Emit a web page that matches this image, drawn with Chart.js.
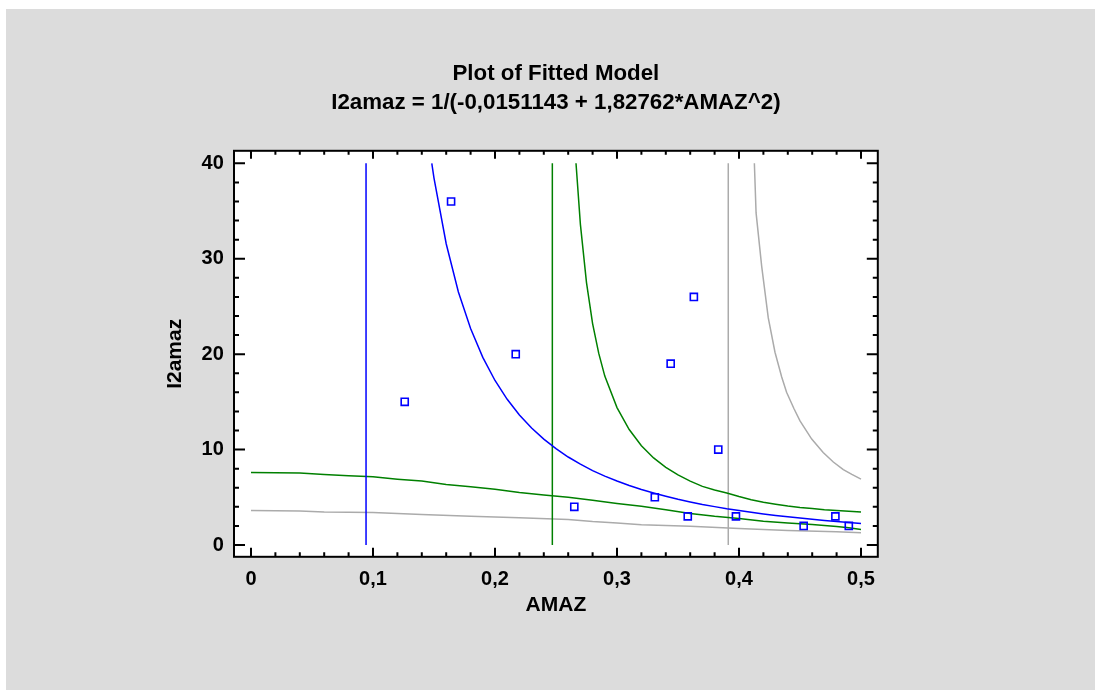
<!DOCTYPE html>
<html>
<head>
<meta charset="utf-8">
<script src="https://cdn.jsdelivr.net/npm/chart.js@4.4.1/dist/chart.umd.min.js"></script>
<style>
  html, body { margin: 0; padding: 0; background: #ffffff; }
  #wrap { position: absolute; left: 6px; top: 9px; width: 1089px; height: 681px; }
  canvas { display: block; }
</style>
</head>
<body>
<div id="wrap"><canvas id="c" width="1089" height="681"></canvas></div>
<script>
// ---- Observed data ----
const obsX = [0.126, 0.164, 0.217, 0.265, 0.331, 0.344, 0.358, 0.363, 0.383, 0.3975, 0.453, 0.479, 0.490];
const obsY = [15, 36, 20, 4, 5, 19, 3, 26, 10, 3, 2, 3, 2];

// ---- Fitted model (blue) ----
const fitX = [0.1482, 0.15, 0.16, 0.17, 0.18, 0.19, 0.20, 0.21, 0.22, 0.23, 0.24, 0.25, 0.26, 0.27, 0.28, 0.29, 0.30, 0.31, 0.32, 0.33, 0.34, 0.35, 0.36, 0.37, 0.38, 0.39, 0.40, 0.41, 0.42, 0.43, 0.44, 0.45, 0.46, 0.47, 0.48, 0.49, 0.50];
const fitY = [40, 38.45, 31.57, 26.52, 22.68, 19.66, 17.24, 15.27, 13.63, 12.26, 11.09, 10.09, 9.22, 8.47, 7.80, 7.22, 6.70, 6.23, 5.81, 5.44, 5.10, 4.79, 4.51, 4.25, 4.02, 3.80, 3.61, 3.42, 3.25, 3.10, 2.95, 2.82, 2.69, 2.57, 2.46, 2.36, 2.26];
const fitJumpX = [0.0943, 0.0943];
const fitJumpY = [0, 40];

// ---- Confidence limits (green) ----
const confUpX = [0.2664, 0.270, 0.275, 0.280, 0.285, 0.290, 0.300, 0.310, 0.320, 0.330, 0.340, 0.350, 0.360, 0.370, 0.380, 0.390, 0.400, 0.410, 0.420, 0.430, 0.440, 0.450, 0.460, 0.470, 0.480, 0.490, 0.500];
const confUpY = [40, 33.6, 27.5, 23.2, 20.1, 17.7, 14.4, 12.1, 10.4, 9.12, 8.14, 7.34, 6.69, 6.14, 5.77, 5.45, 5.08, 4.75, 4.49, 4.28, 4.09, 3.94, 3.82, 3.70, 3.61, 3.53, 3.45];
const confJumpX = [0.247, 0.247];
const confJumpY = [0, 40];
const confLowX = [0, 0.04, 0.06, 0.08, 0.10, 0.12, 0.14, 0.16, 0.18, 0.20, 0.22, 0.24, 0.26, 0.28, 0.30, 0.32, 0.34, 0.36, 0.38, 0.40, 0.42, 0.44, 0.46, 0.48, 0.49, 0.50];
const confLowY = [7.6, 7.55, 7.4, 7.25, 7.15, 6.9, 6.7, 6.35, 6.1, 5.85, 5.5, 5.25, 5.0, 4.7, 4.35, 4.05, 3.7, 3.3, 3.0, 2.78, 2.5, 2.3, 2.15, 1.95, 1.8, 1.63];

// ---- Prediction limits (gray) ----
const predUpX = [0.4126, 0.4140, 0.4186, 0.4240, 0.4295, 0.4350, 0.4390, 0.4450, 0.4500, 0.4596, 0.4690, 0.4773, 0.4855, 0.4925, 0.5];
const predUpY = [40, 34.8, 29.2, 23.8, 20.2, 17.6, 16.0, 14.3, 13.0, 11.1, 9.7, 8.7, 7.9, 7.4, 6.9];
const predJumpX = [0.3912, 0.3912];
const predJumpY = [0, 40];
const predLowX = [0, 0.04, 0.06, 0.10, 0.14, 0.18, 0.22, 0.26, 0.28, 0.30, 0.32, 0.36, 0.40, 0.44, 0.48, 0.50];
const predLowY = [3.62, 3.57, 3.45, 3.4, 3.2, 3.0, 2.85, 2.67, 2.45, 2.3, 2.12, 1.97, 1.72, 1.52, 1.38, 1.29];

// ---- Axes ----
const xTicks = [0, 0.1, 0.2, 0.3, 0.4, 0.5];
const xTickLabels = ['0', '0,1', '0,2', '0,3', '0,4', '0,5'];
const yTicks = [0, 10, 20, 30, 40];
const yTickLabels = ['0', '10', '20', '30', '40'];
const titleLines = ['Plot of Fitted Model', 'I2amaz = 1/(-0,0151143 + 1,82762*AMAZ^2)'];
const xTitle = 'AMAZ';
const yTitle = 'I2amaz';

const FONT = '"Liberation Sans", Arial, Helvetica, sans-serif';
const BLUE = '#0000ff';
const GREEN = '#008000';
const GRAY = '#ababab';

function pts(xs, ys) { return xs.map((x, i) => ({ x: x, y: ys[i] })); }
function line(xs, ys, color, w) {
  return { data: pts(xs, ys), showLine: true, borderColor: color, borderWidth: w, pointRadius: 0, pointHoverRadius: 0, fill: false, tension: 0 };
}

const framePlugin = {
  id: 'frame',
  beforeDraw(chart) {
    const ctx = chart.ctx, a = chart.chartArea;
    ctx.save();
    ctx.fillStyle = '#dcdcdc';
    ctx.fillRect(0, 0, chart.width, chart.height);
    ctx.fillStyle = '#ffffff';
    ctx.fillRect(a.left, a.top, a.right - a.left, a.bottom - a.top);
    ctx.restore();
  },
  afterDraw(chart) {
    const ctx = chart.ctx, a = chart.chartArea;
    const xs = chart.scales.x, ys = chart.scales.y;
    ctx.save();
    ctx.strokeStyle = '#000';
    ctx.lineWidth = 2;
    ctx.strokeRect(a.left, a.top, a.right - a.left, a.bottom - a.top);
    ctx.beginPath();
    for (let i = 0; i <= 25; i++) {
      const v = i * 0.02;
      const px = xs.getPixelForValue(v);
      const major = i % 5 === 0;
      const lb = major ? 9 : 4.5;
      const lt = major ? 8 : 4;
      ctx.moveTo(px, a.bottom); ctx.lineTo(px, a.bottom - lb);
      ctx.moveTo(px, a.top); ctx.lineTo(px, a.top + lt);
    }
    for (let i = 0; i <= 20; i++) {
      const v = i * 2;
      const py = ys.getPixelForValue(v);
      const major = i % 5 === 0;
      const l = major ? 11 : 5;
      ctx.moveTo(a.left, py); ctx.lineTo(a.left + l, py);
      ctx.moveTo(a.right, py); ctx.lineTo(a.right - l, py);
    }
    ctx.stroke();
    ctx.restore();
  }
};

new Chart(document.getElementById('c'), {
  type: 'scatter',
  data: {
    datasets: [
      { data: pts(obsX, obsY), showLine: false, pointStyle: 'rect', pointRadius: 5, pointBorderWidth: 1.6, borderColor: BLUE, pointBorderColor: BLUE, backgroundColor: 'rgba(0,0,0,0)', pointBackgroundColor: 'rgba(0,0,0,0)' },
      line(fitX, fitY, BLUE, 1.5),
      line(fitJumpX, fitJumpY, BLUE, 1.5),
      line(confUpX, confUpY, GREEN, 1.5),
      line(confJumpX, confJumpY, GREEN, 1.5),
      line(confLowX, confLowY, GREEN, 1.5),
      line(predUpX, predUpY, GRAY, 1.5),
      line(predJumpX, predJumpY, GRAY, 1.5),
      line(predLowX, predLowY, GRAY, 1.5)
    ]
  },
  options: {
    responsive: false,
    animation: false,
    events: [],
    layout: { padding: { left: 0, top: 0, right: 217.2, bottom: 0 } },
    plugins: {
      legend: { display: false },
      tooltip: { enabled: false },
      title: {
        display: true,
        text: titleLines,
        fullSize: false,
        color: '#000',
        font: { family: FONT, size: 22.3, weight: 'bold', lineHeight: 29 / 22.3 },
        padding: { top: 50.5, bottom: 33.3 }
      }
    },
    scales: {
      x: {
        type: 'linear',
        min: -0.01393,
        max: 0.51377,
        afterBuildTicks: s => { s.ticks = xTicks.map(v => ({ value: v })); },
        afterFit: s => { s.height = 133.2; },
        grid: { display: false, drawTicks: false },
        border: { display: false },
        ticks: {
          color: '#000',
          padding: 10.5,
          maxRotation: 0,
          autoSkip: false,
          font: { family: FONT, size: 20, weight: 'bold' },
          callback: (v) => xTickLabels[xTicks.indexOf(v)]
        },
        title: {
          display: true, text: xTitle, color: '#000',
          font: { family: FONT, size: 21, weight: 'bold' },
          padding: { top: 0, bottom: 71.7 }
        }
      },
      y: {
        type: 'linear',
        min: -1.237,
        max: 41.31,
        afterBuildTicks: s => { s.ticks = yTicks.map(v => ({ value: v })); },
        afterFit: s => { s.width = 228; },
        grid: { display: false, drawTicks: false },
        border: { display: false },
        ticks: {
          color: '#000',
          padding: 10.2,
          autoSkip: false,
          font: { family: FONT, size: 20, weight: 'bold' },
          callback: (v) => yTickLabels[yTicks.indexOf(v)]
        },
        title: {
          display: true, text: yTitle, color: '#000',
          font: { family: FONT, size: 21, weight: 'bold' },
          padding: { top: 156.9, bottom: 0 }
        }
      }
    }
  },
  plugins: [framePlugin]
});
</script>
</body>
</html>
